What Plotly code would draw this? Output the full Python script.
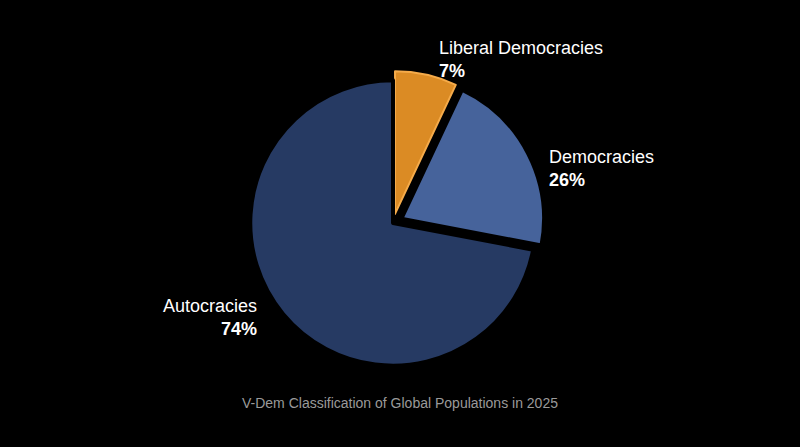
import plotly.graph_objects as go

labels = ["Liberal Democracies", "Democracies", "Autocracies"]
slice_share = [7, 21, 72]
# percentages printed in the labels (democracies includes liberal democracies)
shown_pct = ["7%", "26%", "74%"]
colors = ["#db8b24", "#46639b", "#263a63"]
edge_colors = ["#f5ab4a", "#000000", "#000000"]
title_text = "V-Dem Classification of Global Populations in 2025"

W, H = 800, 447

fig = go.Figure(go.Pie(
    labels=labels,
    values=slice_share,
    sort=False,
    direction="clockwise",
    rotation=0,
    pull=[0.065, 0.065, 0],
    marker=dict(colors=colors, line=dict(color=edge_colors, width=[2, 4, 4])),
    textinfo="none",
    hoverinfo="label",
    showlegend=False,
    domain=dict(x=[241 / W, 545 / W], y=[1 - 375 / H, 1 - 71 / H]),
))

# label placement in pixels: (x, y_top, anchor)
label_pos = [(437, 36, "left"), (547, 145, "left"), (259, 294, "right")]
for name, pct, (px, py, anc) in zip(labels, shown_pct, label_pos):
    fig.add_annotation(
        x=px / W, y=1 - py / H, xref="paper", yref="paper",
        xanchor=anc, yanchor="top", align=anc, showarrow=False,
        text=f"{name}<br><b>{pct}</b>",
        font=dict(family="Liberation Sans, Arial, sans-serif", size=18, color="#ffffff"),
    )

fig.add_annotation(
    x=0.5, y=1 - 403 / H, xref="paper", yref="paper",
    xanchor="center", yanchor="middle", showarrow=False,
    text=title_text,
    font=dict(family="Liberation Sans, Arial, sans-serif", size=14, color="#9a9a9a"),
)

fig.update_layout(
    width=W, height=H,
    margin=dict(l=0, r=0, t=0, b=0),
    paper_bgcolor="#000000",
    plot_bgcolor="#000000",
)

fig.write_html("out.html", config={"displayModeBar": False},
               post_script="document.body.style.margin='0';document.body.style.background='#000';")
